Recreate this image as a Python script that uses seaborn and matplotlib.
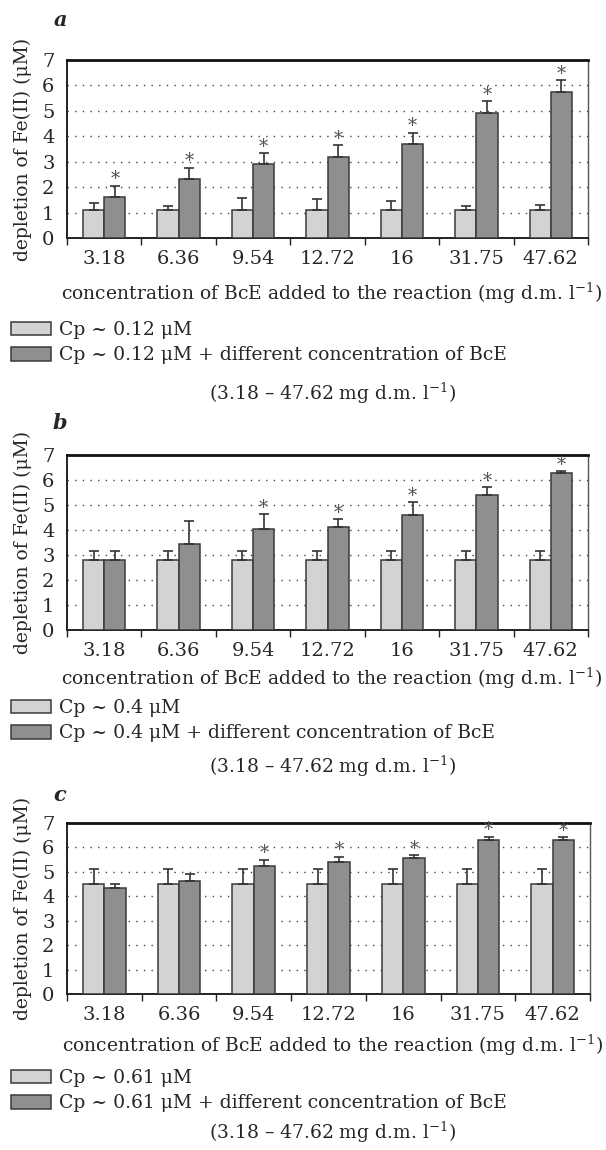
import numpy as np
import pandas as pd
import matplotlib
matplotlib.use("Agg")
import matplotlib.pyplot as plt
import seaborn as sns

# data (depletion of Fe(II), uM)
concentrations = ["3.18", "6.36", "9.54", "12.72", "16", "31.75", "47.62"]

# panel a: Cp ~ 0.12 uM
a_control = [1.10, 1.10, 1.10, 1.10, 1.10, 1.10, 1.10]
a_control_err = [0.28, 0.16, 0.48, 0.42, 0.35, 0.16, 0.19]
a_bce = [1.60, 2.33, 2.90, 3.19, 3.69, 4.93, 5.76]
a_bce_err = [0.46, 0.44, 0.45, 0.46, 0.45, 0.46, 0.46]
a_signif = [True, True, True, True, True, True, True]

# panel b: Cp ~ 0.4 uM
b_control = [2.80, 2.80, 2.80, 2.80, 2.80, 2.80, 2.80]
b_control_err = [0.36, 0.36, 0.36, 0.36, 0.36, 0.36, 0.36]
b_bce = [2.80, 3.44, 4.04, 4.12, 4.58, 5.41, 6.28]
b_bce_err = [0.36, 0.91, 0.60, 0.32, 0.54, 0.29, 0.08]
b_signif = [False, False, True, True, True, True, True]

# panel c: Cp ~ 0.61 uM
c_control = [4.50, 4.50, 4.50, 4.50, 4.50, 4.50, 4.50]
c_control_err = [0.63, 0.63, 0.63, 0.63, 0.63, 0.63, 0.63]
c_bce = [4.32, 4.64, 5.23, 5.39, 5.55, 6.29, 6.29]
c_bce_err = [0.20, 0.26, 0.27, 0.23, 0.12, 0.15, 0.12]
c_signif = [False, False, True, True, True, True, True]

cp_levels = ["0.12", "0.4", "0.61"]
panel_letters = ["a", "b", "c"]

sns.set_theme(style="white")
plt.rcParams['font.family'] = ['DejaVu Serif']
plt.rcParams['mathtext.fontset'] = 'dejavuserif'

W, H = 606, 1150
fig = plt.figure(figsize=(W / 100, H / 100), dpi=100)

light = "#d3d3d3"
dark = "#8f8f8f"
edge = "#3a3a3a"

# pixel layout of each panel: axes left/right/top/bottom, letter y, xlabel y, legend top, range text y
layout = [
    dict(l=67, r=588, t=60, b=238, letter=20, xlab=293, leg=321, rng=393),
    dict(l=67, r=588, t=455, b=630, letter=423, xlab=678, leg=699, rng=766),
    dict(l=67, r=590, t=823, b=994, letter=795, xlab=1045, leg=1069, rng=1132),
]

panels = [
    (a_control, a_control_err, a_bce, a_bce_err, a_signif),
    (b_control, b_control_err, b_bce, b_bce_err, b_signif),
    (c_control, c_control_err, c_bce, c_bce_err, c_signif),
]

xlabel = r"concentration of BcE added to the reaction (mg d.m. l$^{-1}$)"
range_text = r"(3.18 – 47.62 mg d.m. l$^{-1}$)"

for i, (ctrl, ctrl_err, bce, bce_err, signif) in enumerate(panels):
    p = layout[i]
    ax_w = p["r"] - p["l"]
    ax_h = p["b"] - p["t"]
    ax = fig.add_axes([p["l"] / W, 1 - p["b"] / H, ax_w / W, ax_h / H])

    lab_ctrl = f"Cp ~ {cp_levels[i]} μM"
    lab_bce = f"Cp ~ {cp_levels[i]} μM + different concentration of BcE"
    df = pd.DataFrame({
        "conc": concentrations * 2,
        "value": ctrl + bce,
        "group": [lab_ctrl] * len(concentrations) + [lab_bce] * len(concentrations),
    })

    sns.barplot(data=df, x="conc", y="value", hue="group", palette=[light, dark],
                width=0.57, edgecolor=edge, linewidth=1.1, errorbar=None,
                legend=False, ax=ax, zorder=3)
    bar_groups = list(ax.containers[:2])

    # upper error bars only
    for cont, err in zip(bar_groups, [ctrl_err, bce_err]):
        xs = [b.get_x() + b.get_width() / 2 for b in cont]
        ys = [b.get_height() for b in cont]
        ax.errorbar(xs, ys, yerr=[np.zeros(len(err)), err], fmt="none",
                    ecolor="#333333", elinewidth=1.2, capsize=3.5, capthick=1.2, zorder=4)

    # asterisks over the significant BcE bars
    for b, err, s in zip(bar_groups[1], bce_err, signif):
        if s:
            ax.annotate("*", (b.get_x() + b.get_width() / 2, b.get_height() + err),
                        xytext=(0, 4.5), textcoords="offset points", ha="center", va="center",
                        fontsize=13, color="#555555", annotation_clip=False)

    ax.set_ylim(0, 7)
    ax.set_xlim(-0.5, len(concentrations) - 0.5)
    ax.set_yticks(range(8))
    ax.yaxis.grid(True, linestyle=(0, (1, 4.5)), color="#444444", linewidth=1.0)
    ax.set_axisbelow(True)
    ax.tick_params(axis="y", length=0, pad=9, labelsize=14)
    ax.set_xticks(np.arange(-0.5, len(concentrations)), minor=True)
    ax.tick_params(axis="x", which="major", length=0, pad=9, labelsize=14)
    ax.tick_params(axis="x", which="minor", length=5, width=1, color="#222222", direction="out")
    ax.tick_params(axis="x", which="minor", bottom=True)

    for side in ["left", "bottom"]:
        ax.spines[side].set_color("#222222")
        ax.spines[side].set_linewidth(1.4)
    ax.spines["top"].set_color("#111111")
    ax.spines["top"].set_linewidth(2.0)
    ax.spines["right"].set_color("#555555")
    ax.spines["right"].set_linewidth(1.0)

    ax.set_ylabel("depletion of Fe(II) (μM)", fontsize=13.5)
    ax.yaxis.set_label_coords(-(p["l"] - 23) / ax_w, 0.5)
    ax.yaxis.label.set_va("center")
    ax.set_xlabel(xlabel, fontsize=13.5)
    ax.xaxis.set_label_coords(0.508, -(p["xlab"] - p["b"]) / ax_h)
    ax.xaxis.label.set_va("center")

    ax.legend(bar_groups, [lab_ctrl, lab_bce], loc="upper left",
              bbox_to_anchor=(11 / W, 1 - p["leg"] / H), bbox_transform=fig.transFigure,
              frameon=False, borderpad=0, borderaxespad=0, fontsize=13.5,
              handlelength=2.15, handleheight=0.7, handletextpad=0.4, labelspacing=0.4)

    fig.text(60 / W, 1 - p["letter"] / H, panel_letters[i], fontsize=15,
             fontweight="bold", fontstyle="italic", ha="center", va="center")
    fig.text(333 / W, 1 - p["rng"] / H, range_text, fontsize=13.5, ha="center", va="center")

fig.savefig("out.png", dpi=100)
plt.close()
